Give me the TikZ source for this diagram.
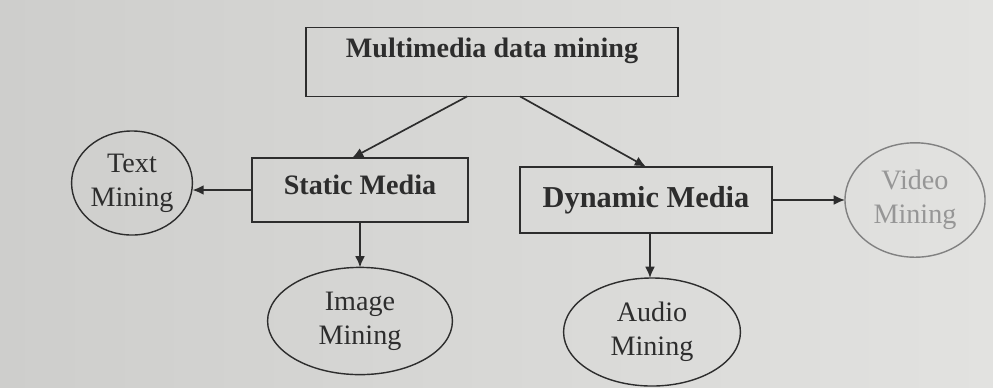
\documentclass[tikz,border=0pt]{standalone}
\usepackage{fontspec}
\setmainfont{Liberation Serif}
\usetikzlibrary{positioning, arrows.meta, shapes.geometric}

\definecolor{paperL}{RGB}{206,206,204}
\definecolor{paperR}{RGB}{226,226,224}
\definecolor{ink}{RGB}{45,45,45}

\begin{document}
\begin{tikzpicture}[x=0.0125cm, y=-0.0125cm,
  media/.style={draw=ink, line width=0.6pt, inner sep=0pt, outer sep=0pt, font=\bfseries, text=ink},
  kind/.style={draw=ink, ellipse, line width=0.5pt, inner sep=0pt, outer sep=0pt, align=center, font=\normalsize, text=ink},
  link/.style={draw=ink, line width=0.6pt, -{Latex[length=4pt, width=3.5pt]}}]

% page
\shade[left color=paperL, right color=paperR] (0, 0) rectangle (993, 387);
\useasboundingbox (0, 0) rectangle (993, 387);

% boxes
\node[media, minimum width=4.65cm, minimum height=0.86cm, text height=7pt, text depth=10.5pt] (mdm) at (492, 62) {Multimedia data mining};
\node[media, minimum width=2.7cm, minimum height=0.8cm, text height=7pt, text depth=4pt] (static) at (360, 190) {Static Media};
\node[media, minimum width=3.15cm, minimum height=0.83cm, font=\bfseries\fontsize{10.8pt}{13pt}\selectfont] (dynamic) at (646, 200) {Dynamic Media};

% leaves
\node[kind, minimum width=1.51cm, minimum height=1.3cm] (textm) at (132, 183) {Text\\Mining};
\node[kind, minimum width=2.31cm, minimum height=1.34cm] (imagem) at (360, 321) {Image\\Mining};
\node[kind, minimum width=2.21cm, minimum height=1.35cm] (audiom) at (652, 332) {Audio\\Mining};
\node[kind, draw=ink!60, text=ink!50, minimum width=1.75cm, minimum height=1.43cm] (videom) at (915, 200) {Video\\Mining};

% arrows
\draw[link] ([xshift=-0.31cm]mdm.south) -- ([xshift=-0.1cm]static.north);
\draw[link] ([xshift=0.35cm]mdm.south) -- (dynamic.north);
\draw[link] (static.west) -- (static.west -| textm.east);
\draw[link] (static.south) -- (imagem.north);
\draw[link] ([xshift=0.05cm]dynamic.south) -- ([xshift=0.05cm]dynamic.south |- audiom.north);
\draw[link] (dynamic.east) -- (videom.west);
\end{tikzpicture}
\end{document}
